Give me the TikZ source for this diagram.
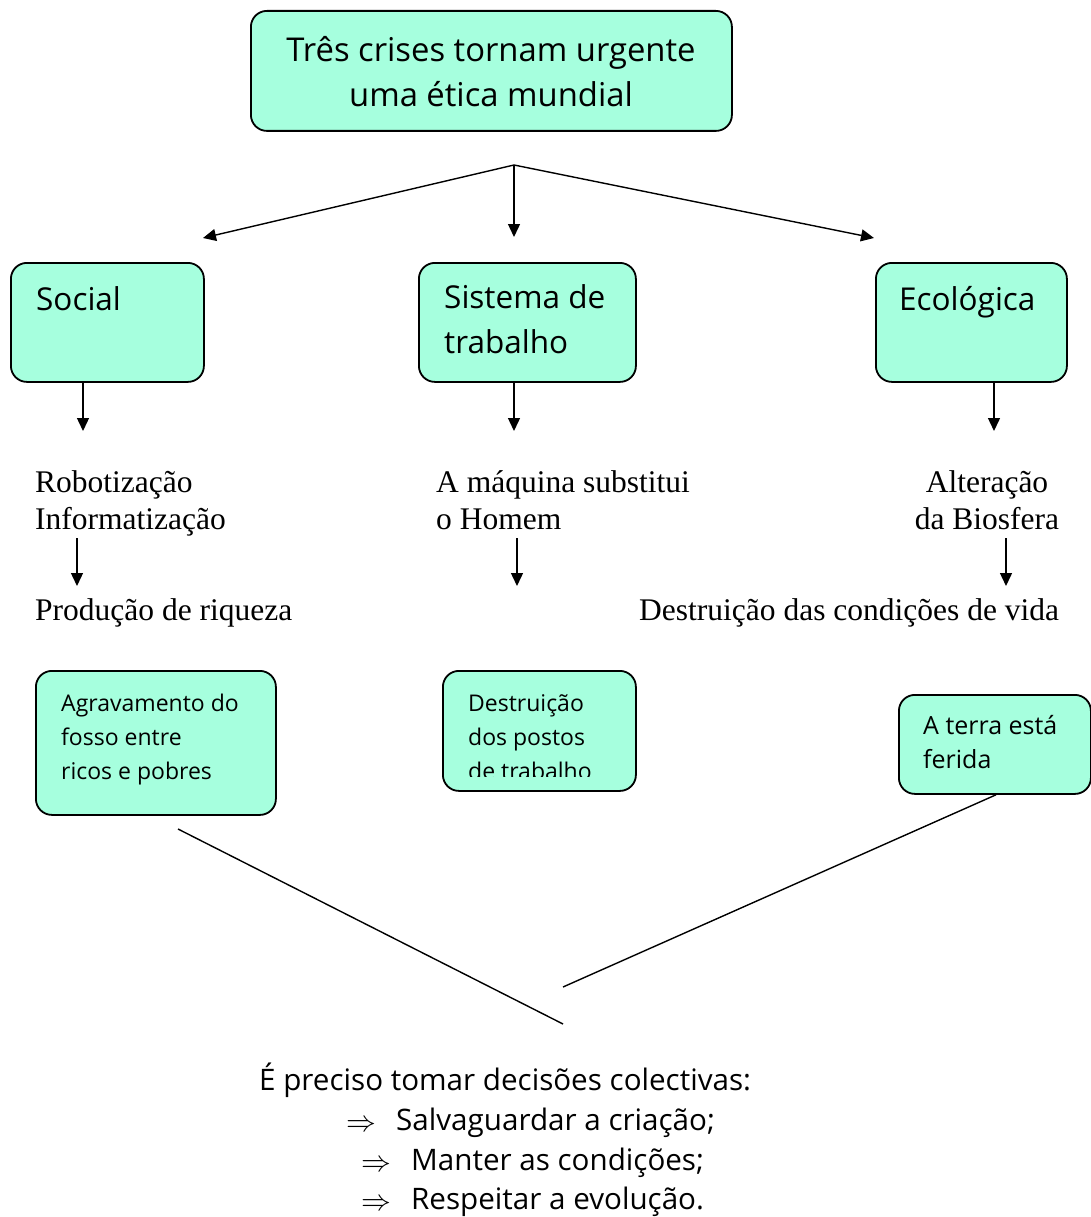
\documentclass[tikz,border=0pt]{standalone}
\usepackage{fontspec}
\usepackage{graphicx}
\setmainfont{Liberation Serif}
\newfontfamily\comic{Open Sans}
\usetikzlibrary{arrows.meta}
\definecolor{boxfill}{RGB}{166,255,222}
\tikzset{
  box/.style={draw=black, line width=1.8pt, fill=boxfill, rounded corners=16pt, inner sep=0pt, anchor=north west},
  arr/.style={line width=1.4pt, -{Triangle[length=13pt,width=12pt]}},
  link/.style={line width=1.4pt},
  ctxt/.style={inner sep=0pt, anchor=base west, font=\comic\fontsize{31.5}{36}\selectfont},
  ttxt/.style={inner sep=0pt, anchor=base, font=\comic\fontsize{32.8}{38}\selectfont},
  stxt/.style={inner sep=0pt, anchor=base west, font=\comic\fontsize{23}{27}\selectfont},
  btxt/.style={inner sep=0pt, anchor=base west, font=\comic\fontsize{29.6}{34}\selectfont},
  rtxt/.style={inner sep=0pt, anchor=base west, font=\fontsize{31.5}{36}\selectfont},
}
\newcommand{\impl}{\makebox[50pt][l]{\raisebox{-1pt}{\scalebox{1.2}{$\Rightarrow$}}}}
\begin{document}
\begin{tikzpicture}[x=1pt,y=-1pt]
\useasboundingbox (0,0) rectangle (1090,1217);
% top box
\node[box, minimum width=481pt, minimum height=120pt] (top) at (250,10) {};
\node[ttxt] (t1) at (491,62) {Três crises tornam urgente};
\node[ttxt] (t2) at (491,107) {uma ética mundial};
% branching arrows
\coordinate (hub) at (514,165);
\coordinate (hl) at (203,238);
\coordinate (hm) at (514,237);
\coordinate (hr) at (874,238);
\draw[arr] (hub) -- (hl);
\draw[arr] (hub) -- (hm);
\draw[arr] (hub) -- (hr);
% category boxes
\node[box, minimum width=193pt, minimum height=119pt] (social) at (10,262) {};
\node[ctxt] (socialt) at (36,310) {Social};
\node[box, minimum width=217pt, minimum height=119pt] (sist) at (418,262) {};
\node[ctxt] (sist1) at (444,308) {Sistema de};
\node[ctxt] (sist2) at (444,353) {trabalho};
\node[box, minimum width=191pt, minimum height=119pt] (eco) at (875,262) {};
\node[ctxt] (ecot) at (899,310) {Ecológica};
% arrows down from boxes
\coordinate (a1) at (83,431);
\coordinate (a2) at (514,431);
\coordinate (a3) at (994,431);
\draw[arr] (social.south -| a1) -- (a1);
\draw[arr] (sist.south -| a2) -- (a2);
\draw[arr] (eco.south -| a3) -- (a3);
% serif texts
\node[rtxt] (rob) at (35,492) {Robotização};
\node[rtxt] (inf) at (35,529) {Informatização};
\node[rtxt] (prod) at (35,620) {Produção de riqueza};
\node[rtxt] (maq1) at (436,492) {A máquina substitui};
\node[rtxt] (maq2) at (436,529) {o Homem};
\node[rtxt, anchor=base] (alt1) at (987,492) {Alteração};
\node[rtxt, anchor=base] (alt2) at (987,529) {da Biosfera};
\node[rtxt] (dest) at (639,620) {Destruição das condições de vida};
\coordinate (b1) at (77,586);
\coordinate (b2) at (517,586);
\coordinate (b3) at (1006,586);
\draw[arr] (77,538) -- (b1);
\draw[arr] (517,538) -- (b2);
\draw[arr] (1006,538) -- (b3);
% consequence boxes
\node[box, minimum width=240pt, minimum height=144pt] (agr) at (35,670) {};
\node[stxt] (agr1) at (61,711) {Agravamento do};
\node[stxt] (agr2) at (61,745) {fosso entre};
\node[stxt] (agr3) at (61,779) {ricos e pobres};
\node[box, minimum width=193pt, minimum height=120pt] (dpt) at (442,670) {};
\begin{scope}
\clip (442,670) rectangle (635,776);
\node[stxt] (dpt1) at (468,711) {Destruição};
\node[stxt] (dpt2) at (468,745) {dos postos};
\node[stxt] (dpt3) at (468,779) {de trabalho};
\end{scope}
\node[box, minimum width=192pt, minimum height=99pt] (terra) at (898,694) {};
\node[stxt, font=\comic\fontsize{25}{29}\selectfont] (ter1) at (923,734) {A terra está};
\node[stxt, font=\comic\fontsize{25}{29}\selectfont] (ter2) at (923,768) {ferida};
% converging lines
\coordinate (c1) at (178,829);
\coordinate (c2) at (563,1024);
\coordinate (c3) at (563,987);
\draw[link] (c1) -- (c2);
\draw[link] (c3) -- (terra.south -| 996,0);
% conclusion
\node[btxt] (concl) at (259,1090) {É preciso tomar decisões colectivas:};
\node[btxt] (l1) at (346,1130) {\impl Salvaguardar a criação;};
\node[btxt] (l2) at (361,1170) {\impl Manter as condições;};
\node[btxt] (l3) at (361,1209) {\impl Respeitar a evolução.};
\end{tikzpicture}
\end{document}
